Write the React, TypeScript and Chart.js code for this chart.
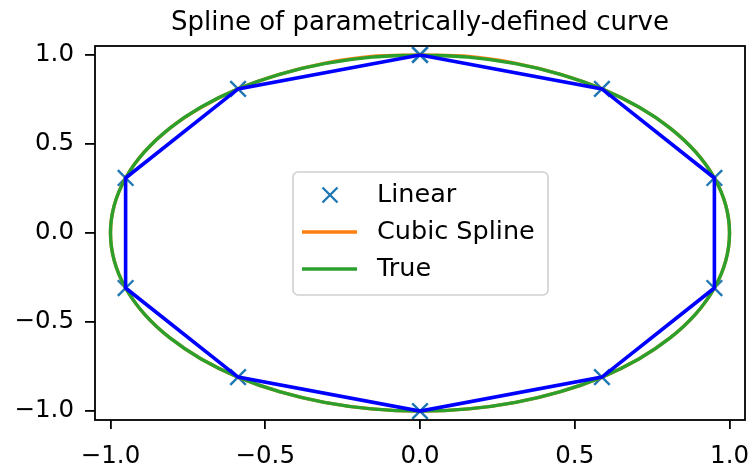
import React, { useEffect, useRef } from "react";
import { Chart, registerables } from "chart.js";
Chart.register(...registerables);

const TITLE = "Spline of parametrically-defined curve";
const LEGEND_LABELS = ["Linear", "Cubic Spline", "True"];
const X_TICKS = [-1, -0.5, 0, 0.5, 1];
const Y_TICKS = [-1, -0.5, 0, 0.5, 1];
const AXIS_MIN = -1.05;
const AXIS_MAX = 1.05;

// sampled data points (marked with x, joined by the blue linear line)
const dataX = [0, 0.5878, 0.9511, 0.9511, 0.5878, 0, -0.5878, -0.9511, -0.9511, -0.5878, 0];
const dataY = [1, 0.809, 0.309, -0.309, -0.809, -1, -0.809, -0.309, 0.309, 0.809, 1];

// true curve
const trueX = [0, 0.1564, 0.309, 0.454, 0.5878, 0.7071, 0.809, 0.891, 0.9511, 0.9877, 1, 0.9877, 0.9511, 0.891, 0.809, 0.7071, 0.5878, 0.454, 0.309, 0.1564, 0, -0.1564, -0.309, -0.454, -0.5878, -0.7071, -0.809, -0.891, -0.9511, -0.9877, -1, -0.9877, -0.9511, -0.891, -0.809, -0.7071, -0.5878, -0.454, -0.309, -0.1564, 0];
const trueY = [1, 0.9877, 0.9511, 0.891, 0.809, 0.7071, 0.5878, 0.454, 0.309, 0.1564, 0, -0.1564, -0.309, -0.454, -0.5878, -0.7071, -0.809, -0.891, -0.9511, -0.9877, -1, -0.9877, -0.9511, -0.891, -0.809, -0.7071, -0.5878, -0.454, -0.309, -0.1564, 0, 0.1564, 0.309, 0.454, 0.5878, 0.7071, 0.809, 0.891, 0.9511, 0.9877, 1];

// cubic spline curve
const splineX = [0, 0.1575, 0.3098, 0.4538, 0.5878, 0.7068, 0.809, 0.8912, 0.9511, 0.9876, 1, 0.9876, 0.9511, 0.8911, 0.809, 0.707, 0.5878, 0.4541, 0.309, 0.1563, 0, -0.1563, -0.309, -0.4541, -0.5878, -0.707, -0.809, -0.8911, -0.9511, -0.9876, -1, -0.9876, -0.9511, -0.8912, -0.809, -0.7062, -0.5878, -0.4538, -0.3098, -0.1575, 0];
const splineY = [1, 0.9912, 0.9528, 0.8912, 0.809, 0.7068, 0.5878, 0.4539, 0.309, 0.1564, 0, -0.1564, -0.309, -0.4541, -0.5878, -0.707, -0.809, -0.8911, -0.9511, -0.9876, -1, -0.9876, -0.9511, -0.8911, -0.809, -0.707, -0.5878, -0.4541, -0.309, -0.1564, 0, 0.1564, 0.309, 0.4539, 0.5878, 0.7062, 0.809, 0.8912, 0.9528, 0.9912, 1];

const FONT = "'DejaVu Sans', sans-serif";
const COL_MARK = "#1f77b4";
const COL_SPLINE = "#ff7f0e";
const COL_TRUE = "#2ca02c";
const COL_LINEAR = "#0000ff";

const pts = (xs: number[], ys: number[]) => xs.map((x, i) => ({ x, y: ys[i] }));
const fmt = (v: number) => v.toFixed(1).replace("-", "\u2212");

const framePlugin = {
  id: "frame",
  afterDatasetsDraw(chart: any) {
    const { ctx, chartArea: a } = chart;
    ctx.save();
    ctx.strokeStyle = "#000";
    ctx.lineWidth = 1.8;
    ctx.strokeRect(a.left, a.top, a.right - a.left, a.bottom - a.top);
    ctx.restore();
  },
};

const titleLegendPlugin = {
  id: "titleLegend",
  afterDraw(chart: any) {
    const { ctx, chartArea: a } = chart;
    ctx.save();
    ctx.fillStyle = "#000";
    ctx.font = `26px ${FONT}`;
    ctx.textAlign = "center";
    ctx.textBaseline = "alphabetic";
    ctx.fillText(TITLE, (a.left + a.right) / 2, 30);

    // legend box
    const bx = 293, by = 172, bw = 255, bh = 123, r = 5;
    ctx.beginPath();
    ctx.moveTo(bx + r, by);
    ctx.arcTo(bx + bw, by, bx + bw, by + bh, r);
    ctx.arcTo(bx + bw, by + bh, bx, by + bh, r);
    ctx.arcTo(bx, by + bh, bx, by, r);
    ctx.arcTo(bx, by, bx + bw, by, r);
    ctx.closePath();
    ctx.fillStyle = "rgba(255,255,255,0.8)";
    ctx.fill();
    ctx.strokeStyle = "#d0d0d0";
    ctx.lineWidth = 1.6;
    ctx.stroke();

    const rows = [195, 232, 269];
    // marker
    ctx.strokeStyle = COL_MARK;
    ctx.lineWidth = 2.4;
    const mx = 330, s = 7.5;
    ctx.beginPath();
    ctx.moveTo(mx - s, rows[0] - s);
    ctx.lineTo(mx + s, rows[0] + s);
    ctx.moveTo(mx - s, rows[0] + s);
    ctx.lineTo(mx + s, rows[0] - s);
    ctx.stroke();
    // lines
    [COL_SPLINE, COL_TRUE].forEach((c, i) => {
      ctx.strokeStyle = c;
      ctx.lineWidth = 3.3;
      ctx.beginPath();
      ctx.moveTo(302, rows[i + 1]);
      ctx.lineTo(357, rows[i + 1]);
      ctx.stroke();
    });
    ctx.fillStyle = "#000";
    ctx.font = `25.5px ${FONT}`;
    ctx.textAlign = "left";
    ctx.textBaseline = "middle";
    LEGEND_LABELS.forEach((t, i) => ctx.fillText(t, 377, rows[i]));
    ctx.restore();
  },
};

export default function App() {
  const ref = useRef<HTMLCanvasElement | null>(null);
  useEffect(() => {
    document.body.style.margin = "0";
    const canvas = ref.current!;
    const tickOpts = () => ({
      display: true,
      color: "#000",
      font: { family: FONT, size: 24.5 },
      callback: (v: any) => fmt(Number(v)),
    });
    const chart = new Chart(canvas, {
      type: "scatter",
      data: {
        datasets: [
          {
            data: pts(dataX, dataY),
            showLine: true,
            borderColor: COL_LINEAR,
            borderWidth: 3.6,
            pointRadius: 0,
            tension: 0,
          },
          {
            data: pts(trueX, trueY),
            showLine: true,
            borderColor: COL_TRUE,
            borderWidth: 3.4,
            pointRadius: 0,
            tension: 0.33,
          },
          {
            data: pts(splineX, splineY),
            showLine: true,
            borderColor: COL_SPLINE,
            borderWidth: 3.4,
            pointRadius: 0,
            tension: 0.33,
          },
          {
            data: pts(dataX, dataY),
            showLine: false,
            pointStyle: "crossRot",
            pointRadius: 11,
            borderColor: COL_MARK,
            backgroundColor: COL_MARK,
            borderWidth: 2.4,
          },
        ],
      } as any,
      options: {
        animation: false,
        responsive: false,
        maintainAspectRatio: false,
        devicePixelRatio: 1,
        layout: { autoPadding: false, padding: { top: 46, right: 7, left: 0, bottom: 0 } },
        plugins: { legend: { display: false }, tooltip: { enabled: false }, title: { display: false } },
        scales: {
          x: {
            type: "linear",
            min: AXIS_MIN,
            max: AXIS_MAX,
            border: { display: false },
            grid: { display: true, drawOnChartArea: false, drawTicks: true, tickLength: 9, color: "#000", lineWidth: 1.8 },
            ticks: { ...tickOpts(), padding: 13, maxRotation: 0 },
            afterBuildTicks: (s: any) => { s.ticks = X_TICKS.map((v) => ({ value: v })); },
            afterFit: (s: any) => { s.height = 43; s.paddingLeft = 0; s.paddingRight = 0; },
          },
          y: {
            type: "linear",
            min: AXIS_MIN,
            max: AXIS_MAX,
            border: { display: false },
            grid: { display: true, drawOnChartArea: false, drawTicks: true, tickLength: 10, color: "#000", lineWidth: 1.8 },
            ticks: { ...tickOpts(), padding: 11 },
            afterBuildTicks: (s: any) => { s.ticks = Y_TICKS.map((v) => ({ value: v })); },
            afterFit: (s: any) => { s.width = 95; s.paddingTop = 0; s.paddingBottom = 0; },
          },
        },
      } as any,
      plugins: [framePlugin, titleLegendPlugin],
    });
    return () => chart.destroy();
  }, []);
  return <canvas ref={ref} width={752} height={463} style={{ display: "block", width: 752, height: 463 }} />;
}
